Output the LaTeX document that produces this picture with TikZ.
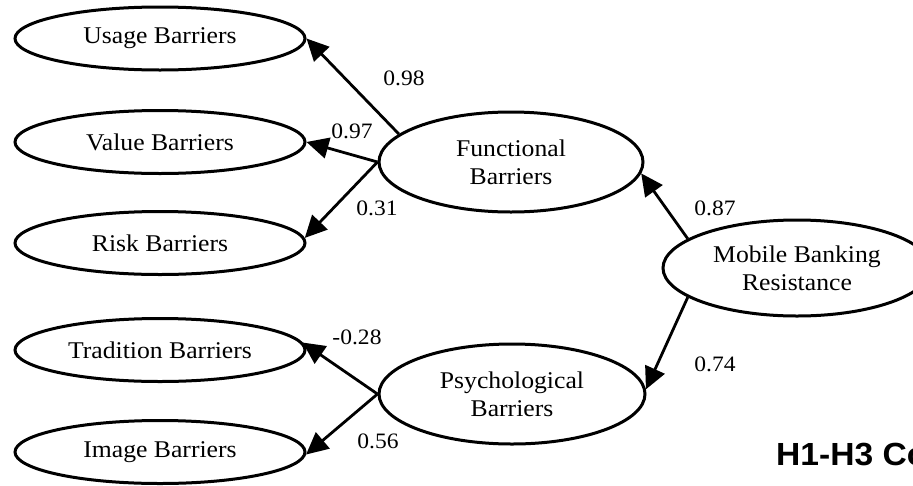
\documentclass[tikz,border=0pt]{standalone}
\usepackage{fontspec}
\setmainfont{Liberation Serif}[FakeStretch=1.07]
\newfontfamily\hfont{Liberation Sans}[FakeStretch=1.05]
\usetikzlibrary{shapes.geometric,arrows.meta}
\begin{document}
\begin{tikzpicture}[x=1pt,y=-1pt,
  oval/.style={ellipse,draw=black,line width=3pt,inner sep=0pt,align=center,
    font=\fontsize{24}{28}\selectfont},
  small/.style={oval,minimum width=290pt,minimum height=63pt},
  big/.style={oval,minimum width=264pt,minimum height=100pt},
  arr/.style={line width=2.8pt,-{Triangle[length=22pt,width=21pt]}},
  lbl/.style={inner sep=0pt,font=\fontsize{22}{26}\selectfont}]
\useasboundingbox (0,0) rectangle (913,485);
\clip (0,0) rectangle (913,485);
\node[small] (usage) at (160,38.5) {Usage Barriers};
\node[small] (value) at (160,142) {Value Barriers};
\node[small] (risk) at (160,243) {Risk Barriers};
\node[small] (tradition) at (160,350) {Tradition Barriers};
\node[small] (image) at (160,452) {Image Barriers};
\node[big] (func) at (511,162) {Functional\\Barriers};
\node[big,minimum width=266pt] (psych) at (512,394) {Psychological\\Barriers};
\node[oval,minimum width=268pt,minimum height=96pt] (mbr) at (797,268) {Mobile Banking\\Resistance};
\draw[arr] (func.166) -- (usage.east);
\draw[arr] (func.west) -- (value.east);
\draw[arr] (func.west) -- (risk.2);
\draw[arr] (mbr.165) -- (func.-5);
\draw[arr] (mbr.-165) -- (psych.2);
\draw[arr] (psych.west) -- (tradition.3);
\draw[arr] (psych.west) -- (image.-1);
\node[lbl] (l98) at (404,78) {0.98};
\node[lbl] (l97) at (352,131) {0.97};
\node[lbl] (l31) at (377,208) {0.31};
\node[lbl] (l87) at (715,208) {0.87};
\node[lbl] (l74) at (715,364) {0.74};
\node[lbl] (l28) at (357,337) {-0.28};
\node[lbl] (l56) at (378,441) {0.56};
\node[inner sep=0pt,anchor=base west,font=\hfont\bfseries\fontsize{32}{36}\selectfont] (title) at (776,465) {H1-H3 Co};
\end{tikzpicture}
\end{document}
